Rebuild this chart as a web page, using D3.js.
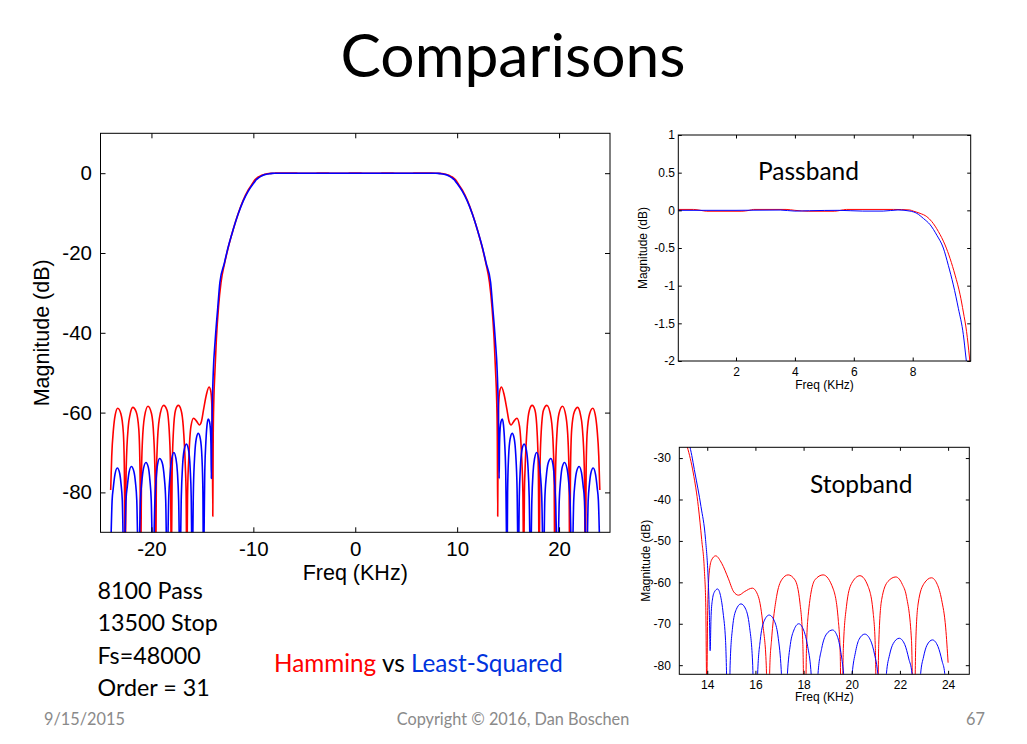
<!DOCTYPE html>
<html><head><meta charset="utf-8">
<script src="https://cdn.jsdelivr.net/npm/d3@7"></script>
<style>body{margin:0;background:#fff}svg{display:block}</style>
</head><body>
<svg id="c" width="1027" height="744"></svg>
<script>
// ---- data (one-sided frequency responses; f in kHz, value in dB) ----
const redPass = [[0,0.012],[0.55,0.012],[0.8,0],[1.0,-0.012],[2.2,-0.012],[2.45,0],[2.6,0.012],[3.7,0.012],[4.0,0],[4.45,-0.012],[5.35,-0.012],[5.55,0],[5.75,0.012],[7.35,0.012],[7.9,0.005],[8.02,-0.01],[8.25,-0.04],[8.48,-0.084],[8.65,-0.15],[8.87,-0.28],[9.1,-0.46],[9.27,-0.64],[9.44,-0.86],[9.61,-1.12],[9.72,-1.35],[9.83,-1.61],[9.93,-1.96]];
const redStop = [[10.0,-2.25],[10.5,-4.2],[11.0,-6.8],[11.5,-10.2],[12.0,-14.3],[12.5,-19.0],[12.84,-22.8],[13.17,-27.3],[13.42,-33.6],[13.63,-41.7],[13.77,-49.7],[13.88,-57],[13.94,-66],[13.98,-86],[14.02,-66],[14.08,-57.8],[14.18,-54.6],[14.35,-53.6],[14.6,-55.4],[14.87,-59.0],[15.1,-62.3],[15.3,-63.1],[15.56,-62.2],[15.87,-61.4],[16.12,-63.4],[16.32,-70.7],[16.45,-80],[16.53,-100],[16.6,-80],[16.67,-73.9],[16.88,-63.4],[17.09,-59.4],[17.36,-58.2],[17.64,-59.4],[17.85,-65.0],[17.97,-75],[18.05,-100],[18.12,-76],[18.19,-68],[18.47,-59.4],[18.81,-58.2],[19.23,-61.6],[19.44,-69.1],[19.52,-77],[19.58,-100],[19.65,-76],[19.78,-65.8],[19.99,-60.3],[20.34,-58.4],[20.68,-61.0],[20.89,-67.4],[20.98,-76],[21.05,-100],[21.12,-75],[21.24,-64.2],[21.5,-59.8],[21.83,-58.7],[22.1,-60.5],[22.27,-63.4],[22.48,-74],[22.58,-100],[22.66,-74],[22.76,-65.0],[23.0,-60.3],[23.31,-58.9],[23.55,-60.5],[23.73,-64.2],[23.9,-71],[24.0,-79.4]];
const bluePass = [[0,0],[2,0],[3.5,0.004],[4.0,-0.01],[4.5,-0.005],[5.5,0],[6.3,-0.01],[7.0,-0.01],[7.5,0.005],[7.91,-0.01],[8.14,-0.04],[8.37,-0.11],[8.59,-0.19],[8.82,-0.33],[9.04,-0.5],[9.21,-0.73],[9.38,-0.99],[9.55,-1.3],[9.72,-1.65],[9.81,-1.96]];
const blueStop = [[10.0,-2.6],[10.5,-4.5],[11.0,-7.0],[11.5,-10.3],[12.0,-14.3],[12.5,-18.8],[12.84,-22.5],[13.28,-27.3],[13.49,-33.6],[13.74,-41.7],[13.93,-49.7],[14.04,-59.4],[14.09,-68],[14.12,-76.5],[14.16,-68],[14.22,-64],[14.3,-62.3],[14.43,-61.6],[14.55,-63.2],[14.66,-67.4],[14.76,-74],[14.9,-100],[14.95,-80],[15.05,-71],[15.2,-66.6],[15.4,-65.2],[15.6,-66.5],[15.75,-70.5],[15.88,-79],[16.0,-100],[16.1,-81],[16.2,-74],[16.35,-69.5],[16.57,-67.9],[16.8,-69.5],[16.95,-73.5],[17.07,-81],[17.2,-100],[17.33,-82],[17.45,-75],[17.6,-71.5],[17.8,-70.0],[18.0,-71.5],[18.17,-75.5],[18.3,-81],[18.47,-100],[18.6,-82],[18.75,-76],[18.95,-72.5],[19.2,-71.5],[19.4,-73],[19.55,-77],[19.66,-82],[19.85,-100],[20.02,-82],[20.15,-77],[20.3,-73.8],[20.54,-72.5],[20.78,-74],[20.95,-77.5],[21.08,-82],[21.27,-100],[21.44,-82],[21.57,-77.5],[21.72,-74.8],[21.97,-73.5],[22.2,-75],[22.37,-78.5],[22.5,-82],[22.69,-100],[22.86,-82],[22.98,-78],[23.12,-75.2],[23.35,-73.9],[23.58,-75.5],[23.75,-79],[23.86,-82],[24.0,-95]];

const mainXTicks = [-20,-10,0,10,20];
const mainYTicks = [0,-20,-40,-60,-80];
const passXTicks = [2,4,6,8];
const passYTicks = [1,0.5,0,-0.5,-1,-1.5,-2];
const stopXTicks = [14,16,18,20,22,24];
const stopYTicks = [-30,-40,-50,-60,-70,-80];
const specLines = ["8100 Pass","13500 Stop","Fs=48000","Order = 31"];
const titleText = "Comparisons";
const footer = ["9/15/2015","Copyright © 2016, Dan Boschen","67"];

// ---- build ----
const redResp = redPass.concat(redStop);
const blueResp = bluePass.concat(blueStop);
const mirror = r => r.slice(1).map(([f,d]) => [-f,d]).reverse().concat(r);

const svg = d3.select("#c");
const TXT = "Lato, 'Open Sans', sans-serif";
const AX = "'Liberation Sans', Arial, sans-serif";

svg.append("text").attr("x",513).attr("y",77).attr("text-anchor","middle")
  .attr("font-family",TXT).attr("font-size",60.5).attr("fill","#000").text(titleText);

let clipId = 0;
function panel(o){
  const x = d3.scaleLinear().domain(o.xd).range([o.x0,o.x1]);
  const y = d3.scaleLinear().domain(o.yd).range([o.y1,o.y0]);
  const g = svg.append("g");
  const id = "clip"+(clipId++);
  svg.append("clipPath").attr("id",id).append("rect")
    .attr("x",o.x0).attr("y",o.y0).attr("width",o.x1-o.x0).attr("height",o.y1-o.y0);
  const line = d3.line().x(d=>x(d[0])).y(d=>y(d[1])).curve(d3.curveMonotoneX);
  const lg = g.append("g").attr("clip-path",`url(#${id})`);
  o.series.forEach(s => lg.append("path").attr("d",line(s.data)).attr("fill","none")
    .attr("stroke",s.color).attr("stroke-width",o.lw).attr("stroke-linejoin","round"));
  const fmt = d => String(d);
  const mk = (axis, tx, ty, labels, pad) => {
    const a = g.append("g").attr("transform",`translate(${tx},${ty})`)
      .call(axis.tickSizeInner(-o.tl).tickSizeOuter(0).tickPadding(pad)
        .tickFormat(labels ? fmt : ""));
    a.select(".domain").remove();
    a.selectAll(".tick line").attr("stroke","#000");
    a.selectAll("text").attr("font-family",AX).attr("font-size",o.fs).attr("fill","#000");
    return a;
  };
  mk(d3.axisBottom(x).tickValues(o.xt), 0, o.y1, true, o.xpad);
  mk(d3.axisTop(x).tickValues(o.xt), 0, o.y0, false, 0);
  mk(d3.axisLeft(y).tickValues(o.yt), o.x0, 0, true, o.ypad);
  mk(d3.axisRight(y).tickValues(o.yt), o.x1, 0, false, 0);
  g.append("rect").attr("x",o.x0).attr("y",o.y0).attr("width",o.x1-o.x0).attr("height",o.y1-o.y0)
    .attr("fill","none").attr("stroke","#000").attr("stroke-width",1);
  g.append("text").attr("x",(o.x0+o.x1)/2).attr("y",o.xlabY).attr("text-anchor","middle")
    .attr("font-family",AX).attr("font-size",o.lfs).attr("fill","#000").text("Freq (KHz)");
  g.append("text").attr("transform",`translate(${o.ylabX},${(o.y0+o.y1)/2}) rotate(-90)`)
    .attr("text-anchor","middle").attr("dy","0.35em")
    .attr("font-family",AX).attr("font-size",o.lfs).attr("fill","#000").text("Magnitude (dB)");
  return {x,y,g};
}

panel({x0:100.5,x1:610,y0:133.3,y1:532.3,xd:[-25,25],yd:[-90,10],xt:mainXTicks,yt:mainYTicks,
  tl:5,fs:20.5,lfs:21.5,xpad:9.5,ypad:8.5,xlabY:580,ylabX:41,lw:1.6,
  series:[{data:mirror(redResp),color:"#ff0000"},{data:mirror(blueResp),color:"#0000ff"}]});

panel({x0:678.3,x1:970.7,y0:135,y1:361,xd:[0.04,9.97],yd:[-2,1],xt:passXTicks,yt:passYTicks,
  tl:3.5,fs:12,lfs:12,xpad:6.5,ypad:3.3,xlabY:389,ylabX:643,lw:1,
  series:[{data:redResp,color:"#ff0000"},{data:blueResp,color:"#0000ff"}]});

panel({x0:679.3,x1:969.3,y0:447.3,y1:674.3,xd:[12.84,24.88],yd:[-82.2,-27.4],xt:stopXTicks,yt:stopYTicks,
  tl:3.5,fs:12,lfs:12,xpad:5.7,ypad:8.5,xlabY:701,ylabX:646,lw:1,
  series:[{data:redStop,color:"#ff0000"},{data:blueStop,color:"#0000ff"}]});

svg.append("text").attr("x",758).attr("y",180).attr("font-family",TXT).attr("font-size",24.5).attr("fill","#000").text("Passband");
svg.append("text").attr("x",810).attr("y",493).attr("font-family",TXT).attr("font-size",24.5).attr("fill","#000").text("Stopband");

svg.selectAll(".spec").data(specLines).enter().append("text")
  .attr("x",97.5).attr("y",(d,i)=>599+i*32.3).attr("font-family",TXT).attr("font-size",23.3).attr("fill","#000").text(d=>d);

const leg = svg.append("text").attr("x",274).attr("y",671.5).attr("font-family",TXT).attr("font-size",24.3);
leg.append("tspan").attr("fill","#ff0000").text("Hamming");
leg.append("tspan").attr("fill","#000").text(" vs ");
leg.append("tspan").attr("fill","#0033dd").text("Least-Squared");

svg.append("text").attr("x",44).attr("y",725).attr("font-family",TXT).attr("font-size",16.3).attr("fill","#8a8a8a").text(footer[0]);
svg.append("text").attr("x",513).attr("y",725).attr("text-anchor","middle").attr("font-family",TXT).attr("font-size",16.3).attr("fill","#8a8a8a").text(footer[1]);
svg.append("text").attr("x",985).attr("y",725).attr("text-anchor","end").attr("font-family",TXT).attr("font-size",16.3).attr("fill","#8a8a8a").text(footer[2]);
</script>
</body></html>
